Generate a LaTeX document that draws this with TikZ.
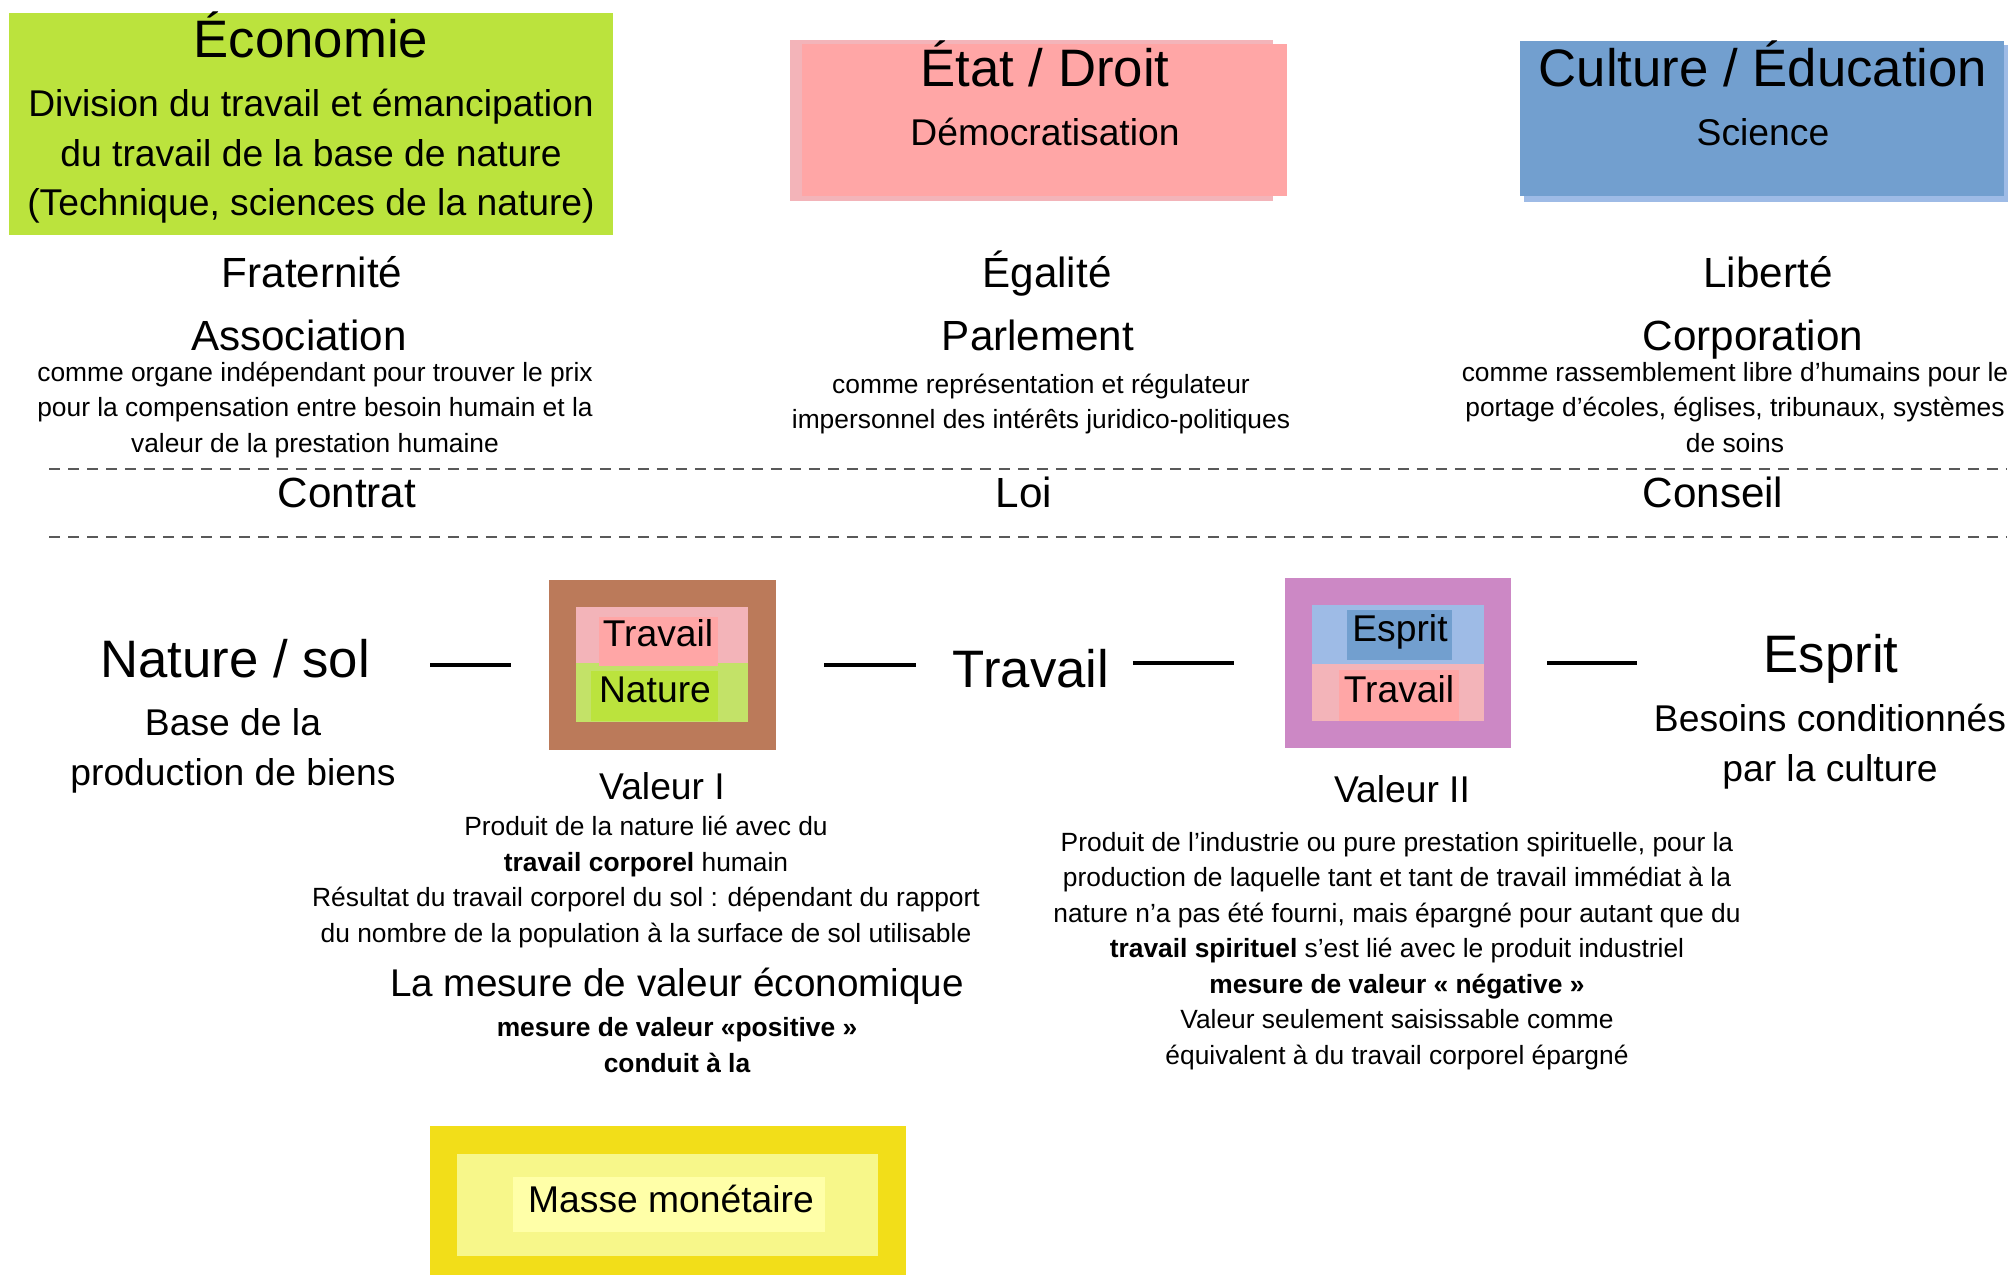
\documentclass[tikz,border=0pt]{standalone}
\usepackage{fontspec}
\setmainfont{Liberation Sans}
\usetikzlibrary{
    backgrounds,
    calc,
    positioning,
}
\definecolor{ecogreen}{HTML}{BBE33D}
\definecolor{greenlight}{HTML}{C3E268}
\definecolor{etatpink}{HTML}{FFA6A6}
\definecolor{pinklight}{HTML}{F3B4B9}
\definecolor{cultblue}{HTML}{729FCF}
\definecolor{bluelight}{HTML}{9EBBE6}
\definecolor{valbrown}{HTML}{BB7A5A}
\definecolor{valpurple}{HTML}{CC88C5}
\definecolor{moneydark}{HTML}{F2DE19}
\definecolor{moneymid}{HTML}{F7F78A}
\definecolor{moneylight}{HTML}{FFFFA8}

\begin{document}
\begin{tikzpicture}[x=0.1mm, y=-0.1mm, inner sep=0pt,
    panel/.style = {anchor=north west, inner sep=0pt, outer sep=0pt},
    big/.style = {font=\fontsize{15}{18}\selectfont, anchor=base},
    head/.style = {font=\fontsize{12}{14}\selectfont, anchor=base},
    sub/.style = {font=\fontsize{10.6}{14.2}\selectfont, align=center, anchor=base},
    note/.style = {font=\fontsize{7.5}{10.1}\selectfont, align=center, anchor=base},
    link/.style = {line width=1.2pt},
    rule/.style = {draw=black!65, line width=0.6pt, dash pattern=on 1.1mm off 0.8mm}]
    \useasboundingbox (0,0) rectangle (2015,1275);

    % three spheres
    \node[panel, fill=ecogreen, minimum width=60.4mm, minimum height=22.2mm] (eco) at (9,13) {};
    \fill[pinklight] (790,40) rectangle (1273,201);
    \node[panel, fill=etatpink, minimum width=48.5mm, minimum height=15.2mm] (etat) at (802,44) {};
    \fill[bluelight] (1524,45) rectangle (2008,202);
    \node[panel, fill=cultblue, minimum width=48.4mm, minimum height=15.5mm] (cult) at (1520,41) {};

    % multi-line nodes sit on their last baseline
    \node[big] (ecoT)  at (311,58) {Économie};
    \node[sub] (ecoS)  at (311,216) {Division du travail et émancipation\\du travail de la base de nature\\(Technique, sciences de la nature)};
    \node[big] (etatT) at (1045,87) {État / Droit};
    \node[sub] (etatS) at (1045,146) {Démocratisation};
    \node[big] (cultT) at (1763,87) {Culture / Éducation};
    \node[sub] (cultS) at (1763,146) {Science};

    \node[head] (frat)  at (312,288) {Fraternité};
    \node[head] (egal)  at (1047,288) {Égalité};
    \node[head] (lib)   at (1768,288) {Liberté};
    \node[head] (assoc) at (299,351) {Association};
    \node[head] (parl)  at (1038,351) {Parlement};
    \node[head] (corp)  at (1753,351) {Corporation};
    \node[note] (assocN) at (315,452) {comme organe indépendant pour trouver le prix\\pour la compensation entre besoin humain et la\\valeur de la prestation humaine};
    \node[note] (parlN)  at (1041,429) {comme représentation et régulateur\\impersonnel des intérêts juridico-politiques};
    \node[note] (corpN)  at (1735,452) {comme rassemblement libre d’humains pour le\\portage d’écoles, églises, tribunaux, systèmes\\de soins};

    % social forms
    \draw[rule] (49,469) -- (2007,469);
    \node[head] (contrat) at (347,508) {Contrat};
    \node[head] (loi)     at (1024,508) {Loi};
    \node[head] (conseil) at (1713,508) {Conseil};
    \draw[rule] (49,537) -- (2007,537);

    % value chain
    \node[big] (natsol)  at (235,677) {Nature / sol};
    \node[sub] (natsolS) at (233,785) {Base de la\\production de biens};

    \node[panel, fill=valbrown, minimum width=22.7mm, minimum height=17mm] (val1) at (549,580) {};
    \fill[pinklight] (576,607) rectangle (748,663);
    \fill[greenlight] (576,663) rectangle (748,722);
    \fill[etatpink] (599,617) rectangle (718,666);
    \fill[ecogreen] (591,671) rectangle (718,721);
    \node[sub] (val1a) at (658,646) {Travail};
    \node[sub] (val1b) at (655,702) {Nature};

    \node[big] (trav) at (1031,687) {Travail};

    \node[panel, fill=valpurple, minimum width=22.6mm, minimum height=17mm] (val2) at (1285,578) {};
    \fill[bluelight] (1312,605) rectangle (1484,664);
    \fill[pinklight] (1312,664) rectangle (1484,721);
    \fill[cultblue] (1347,610) rectangle (1452,660);
    \fill[etatpink] (1339,670) rectangle (1459,721);
    \node[sub] (val2a) at (1400,641) {Esprit};
    \node[sub] (val2b) at (1399,702) {Travail};

    \node[big] (esprit)  at (1831,672) {Esprit};
    \node[sub] (espritS) at (1830,781) {Besoins conditionnés\\par la culture};

    \draw[link, shorten <=6mm, shorten >=3.8mm] (natsol.east |- val1.west) -- (val1.west);
    \draw[link, shorten <=4.8mm, shorten >=3.6mm] (val1.east) -- (trav.west |- val1.east);
    \draw[link, shorten <=2.3mm, shorten >=5.1mm] (trav.east |- val2.west) -- (val2.west);
    \draw[link, shorten <=3.6mm, shorten >=12.6mm] (val2.east) -- (esprit.west |- val2.east);

    % values
    \node[sub] (val1L) at (662,799) {Valeur I};
    \node[note] (val1N) at (646,942) {Produit de la nature lié avec du\\\textbf{travail corporel} humain\\Résultat du travail corporel du sol : dépendant du rapport\\du nombre de la population à la surface de sol utilisable};
    \node[font=\fontsize{11}{13}\selectfont, anchor=base] (mesure) at (677,996) {La mesure de valeur économique};
    \node[note, font=\fontsize{7.5}{10.1}\selectfont\bfseries] (mesureN) at (677,1072) {mesure de valeur «positive »\\conduit à la};

    \node[sub] (val2L) at (1402,802) {Valeur II};
    \node[note] (val2N) at (1397,1064) {Produit de l’industrie ou pure prestation spirituelle, pour la\\production de laquelle tant et tant de travail immédiat à la\\nature n’a pas été fourni, mais épargné pour autant que du\\\textbf{travail spirituel} s’est lié avec le produit industriel\\\textbf{mesure de valeur « négative »}\\Valeur seulement saisissable comme\\équivalent à du travail corporel épargné};

    % money
    \node[panel, fill=moneydark, minimum width=47.6mm, minimum height=14.9mm] (money) at (430,1126) {};
    \fill[moneymid] (457,1154) rectangle (878,1256);
    \fill[moneylight] (513,1177) rectangle (825,1232);
    \node[sub] (masse) at (671,1212) {Masse monétaire};
\end{tikzpicture}
\end{document}
